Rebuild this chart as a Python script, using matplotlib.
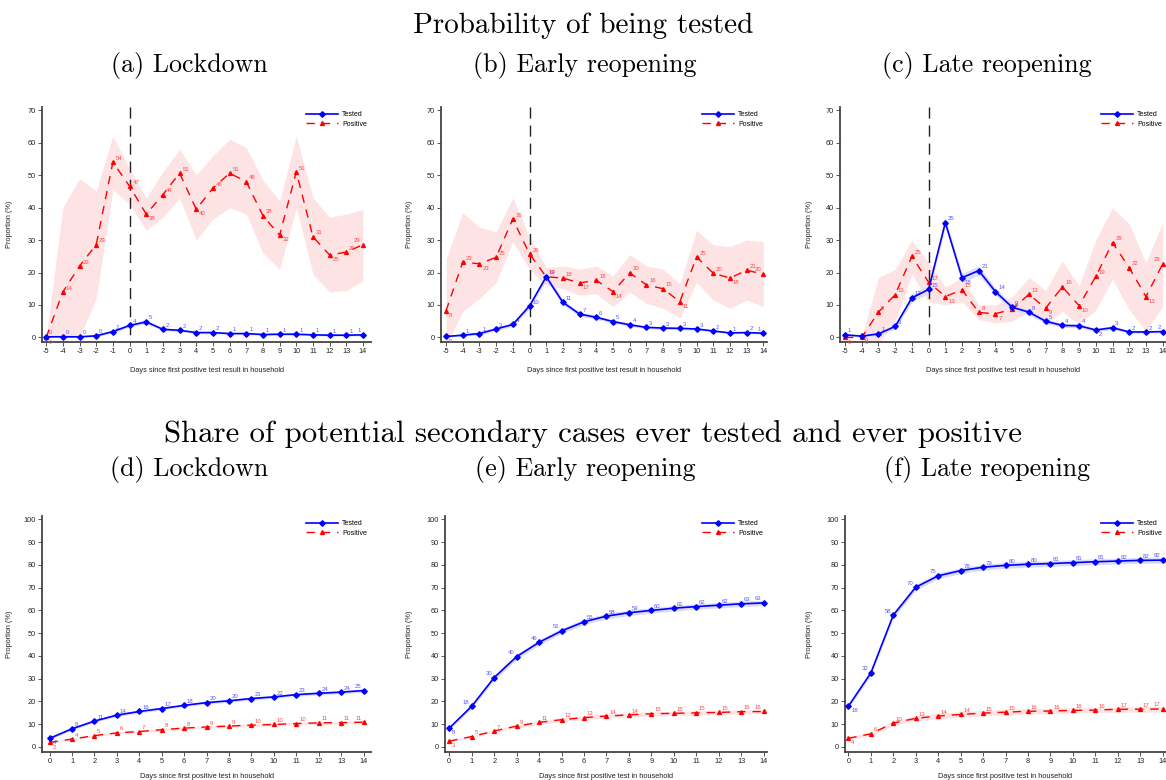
import matplotlib
matplotlib.use("Agg")
import matplotlib.pyplot as plt
import numpy as np

plt.rcParams['font.family'] = ['Liberation Sans', 'DejaVu Sans']
plt.rcParams['axes.unicode_minus'] = False

# ---------------- data ----------------
days_top = list(range(-5, 15))
days_bot = list(range(0, 15))

a_tes = [0.2, 0.2, 0.2, 0.5, 1.8, 3.7, 4.8, 2.5, 2.2, 1.5, 1.5, 1.2, 1.2, 0.9, 1.0, 1.0, 0.8, 0.7, 0.7, 0.8]
a_tes_lo = [0.0, 0.0, 0.0, 0.2, 1.4, 3.2, 4.3, 2.1, 1.8, 1.2, 1.2, 0.9, 0.9, 0.6, 0.7, 0.7, 0.5, 0.4, 0.4, 0.5]
a_tes_hi = [0.5, 0.5, 0.5, 0.9, 2.3, 4.2, 5.3, 2.9, 2.6, 1.8, 1.8, 1.5, 1.5, 1.2, 1.3, 1.3, 1.1, 1.0, 1.0, 1.1]
a_pos = [0.0, 14.0, 22.0, 28.6, 54.0, 46.6, 38.0, 44.0, 50.6, 39.5, 46.0, 50.6, 48.0, 37.5, 31.5, 51.0, 31.0, 25.4, 26.3, 28.6]
a_pos_lo = [0.0, 0.0, 0.0, 12.0, 45.5, 41.0, 33.0, 37.0, 43.0, 30.0, 36.5, 40.0, 38.0, 26.0, 21.0, 40.0, 19.5, 14.0, 14.5, 17.5]
a_pos_hi = [0.0, 40.0, 49.0, 45.0, 62.0, 52.0, 43.0, 51.0, 58.0, 50.0, 56.0, 61.0, 58.5, 48.5, 42.0, 62.0, 43.0, 37.0, 38.0, 39.5]

b_tes = [0.3, 0.7, 1.2, 2.6, 4.0, 9.7, 18.7, 10.8, 7.2, 6.2, 4.9, 3.9, 3.1, 2.9, 2.8, 2.6, 2.0, 1.4, 1.5, 1.3]
b_tes_lo = [0.1, 0.4, 0.8, 2.1, 3.4, 8.9, 17.6, 10.0, 6.6, 5.6, 4.4, 3.4, 2.7, 2.5, 2.4, 2.2, 1.7, 1.1, 1.2, 1.0]
b_tes_hi = [0.5, 1.0, 1.6, 3.1, 4.6, 10.5, 19.8, 11.6, 7.8, 6.8, 5.4, 4.4, 3.5, 3.3, 3.2, 3.0, 2.3, 1.7, 1.8, 1.6]
b_pos = [8.2, 23.2, 22.7, 24.7, 36.5, 25.7, 18.7, 18.3, 16.8, 17.6, 14.1, 19.9, 16.2, 15.0, 11.0, 24.8, 19.8, 18.3, 20.7, 19.5]
b_pos_lo = [-2.5, 8.0, 12.0, 17.0, 29.5, 21.0, 16.0, 15.0, 13.0, 13.5, 9.5, 14.0, 10.5, 9.0, 6.0, 17.0, 11.5, 9.0, 11.5, 9.5]
b_pos_hi = [24.0, 38.5, 34.0, 32.5, 43.0, 31.0, 21.5, 22.0, 21.0, 22.0, 19.0, 25.5, 22.0, 21.0, 16.5, 33.0, 28.5, 28.0, 30.0, 29.5]

c_tes = [0.8, 0.4, 1.1, 3.4, 12.2, 14.8, 35.4, 18.4, 20.6, 14.1, 9.3, 7.8, 5.0, 3.7, 3.6, 2.3, 3.0, 1.7, 1.7, 1.8]
c_tes_lo = [0.4, 0.1, 0.6, 2.6, 11.0, 13.5, 34.0, 17.0, 19.2, 13.0, 8.3, 7.0, 4.3, 3.1, 3.0, 1.8, 2.4, 1.3, 1.3, 1.4]
c_tes_hi = [1.2, 0.8, 1.6, 4.2, 13.4, 16.1, 36.8, 19.8, 22.0, 15.2, 10.3, 8.6, 5.7, 4.3, 4.2, 2.8, 3.6, 2.1, 2.1, 2.2]
c_pos = [0.0, 0.0, 7.8, 13.2, 25.0, 17.0, 12.6, 14.7, 7.7, 7.3, 8.7, 13.3, 9.0, 15.6, 9.8, 18.8, 29.2, 21.5, 12.6, 22.6]
c_pos_lo = [0.0, 0.0, -2.0, 5.0, 19.5, 11.0, 10.0, 11.0, 5.5, 4.5, 5.0, 8.0, 4.0, 8.0, 4.0, 8.5, 18.0, 8.5, 2.0, 9.5]
c_pos_hi = [0.0, 0.0, 18.5, 21.0, 30.0, 23.0, 15.5, 18.5, 10.0, 10.0, 12.5, 18.5, 14.5, 23.5, 16.0, 30.0, 40.0, 35.0, 23.0, 35.5]

d_tes = [3.8, 8.0, 11.4, 14.0, 15.6, 16.9, 18.3, 19.5, 20.3, 21.3, 22.0, 23.0, 23.6, 24.1, 24.8]
d_tes_lo = [3.3, 7.4, 10.8, 13.4, 15.0, 16.3, 17.7, 18.9, 19.6, 20.6, 21.3, 22.3, 22.9, 23.4, 24.1]
d_tes_hi = [4.3, 8.6, 12.0, 14.6, 16.2, 17.5, 18.9, 20.1, 21.0, 22.0, 22.7, 23.7, 24.3, 24.8, 25.5]
d_pos = [2.0, 3.5, 5.0, 6.2, 6.8, 7.6, 8.3, 8.8, 9.2, 9.6, 9.9, 10.3, 10.6, 10.7, 10.9]
d_pos_lo = [1.6, 3.1, 4.5, 5.7, 6.3, 7.0, 7.7, 8.2, 8.6, 9.0, 9.3, 9.7, 10.0, 10.1, 10.3]
d_pos_hi = [2.4, 3.9, 5.5, 6.7, 7.3, 8.2, 8.9, 9.4, 9.8, 10.2, 10.5, 10.9, 11.2, 11.3, 11.5]

e_tes = [8.3, 17.9, 30.5, 39.7, 46.0, 51.0, 55.0, 57.5, 59.0, 60.0, 61.0, 61.7, 62.3, 62.9, 63.3]
e_tes_lo = [7.6, 17.0, 29.4, 38.5, 44.8, 49.8, 53.8, 56.3, 57.8, 58.8, 59.8, 60.5, 61.1, 61.7, 62.1]
e_tes_hi = [9.0, 18.8, 31.6, 40.9, 47.2, 52.2, 56.2, 58.7, 60.2, 61.2, 62.2, 62.9, 63.5, 64.1, 64.5]
e_pos = [2.6, 4.6, 7.0, 9.2, 10.8, 12.0, 12.9, 13.6, 14.1, 14.6, 14.8, 15.0, 15.2, 15.5, 15.6]
e_pos_lo = [2.1, 4.0, 6.4, 8.5, 10.0, 11.2, 12.0, 12.7, 13.2, 13.6, 13.9, 14.1, 14.3, 14.5, 14.7]
e_pos_hi = [2.9, 5.0, 7.6, 9.9, 11.6, 12.8, 13.8, 14.5, 15.0, 15.4, 15.7, 15.9, 16.1, 16.3, 16.5]

f_tes = [17.9, 32.5, 57.9, 70.2, 75.2, 77.5, 79.0, 79.8, 80.3, 80.6, 81.0, 81.4, 81.7, 82.0, 82.1]
f_tes_lo = [17.0, 31.3, 56.6, 68.9, 73.9, 76.2, 77.7, 78.5, 79.0, 79.3, 79.7, 80.1, 80.4, 80.7, 80.8]
f_tes_hi = [18.8, 33.7, 59.2, 71.5, 76.5, 78.8, 80.3, 81.1, 81.6, 81.9, 82.3, 82.7, 83.0, 83.3, 83.4]
f_pos = [3.8, 5.8, 10.5, 12.6, 13.6, 14.3, 14.9, 15.3, 15.7, 15.8, 16.1, 16.2, 16.6, 16.6, 16.7]
f_pos_lo = [3.2, 5.0, 9.5, 11.5, 12.4, 13.1, 13.7, 14.1, 14.5, 14.6, 14.9, 15.0, 15.2, 15.3, 15.3]
f_pos_hi = [4.4, 6.6, 11.5, 13.7, 14.8, 15.5, 16.1, 16.5, 16.9, 17.0, 17.3, 17.4, 17.6, 17.7, 17.7]

main_titles = ["Probability of being tested",
               "Share of potential secondary cases ever tested and ever positive"]
panel_titles = ["(a) Lockdown", "(b) Early reopening", "(c) Late reopening",
                "(d) Lockdown", "(e) Early reopening", "(f) Late reopening"]
xlabel_top = "Days since first positive test result in household"
xlabel_bot = "Days since first positive test in household"
ylabel = "Proportion (%)"
legend_labels = ["Tested", "Positive"]

# ---------------- style ----------------
W, H = 1166, 780
fig = plt.figure(figsize=(W / 100, H / 100), dpi=100)

BLUE = "#0000ff"
RED = "#ff0000"
BLUE_LBL = "#5a5aff"
RED_LBL = "#ff4a4a"
BLUE_BAND = "#dcdcfa"
RED_BAND = "#fde3e3"
SERIF = "cmr10"


def px_rect(l, r, t, b):
    return [l / W, 1 - b / H, (r - l) / W, (b - t) / H]


panels = [
    dict(rect=px_rect(42, 371, 107, 342), xlim=(-5.25, 14.48), days=days_top,
         tes=a_tes, tlo=a_tes_lo, thi=a_tes_hi, pos=a_pos, plo=a_pos_lo, phi=a_pos_hi,
         top=True, ylx=-0.088),
    dict(rect=px_rect(441, 767, 107, 342), xlim=(-5.3, 14.22), days=days_top,
         tes=b_tes, tlo=b_tes_lo, thi=b_tes_hi, pos=b_pos, plo=b_pos_lo, phi=b_pos_hi,
         top=True, ylx=-0.086),
    dict(rect=px_rect(840, 1166, 107, 342), xlim=(-5.3, 14.2), days=days_top,
         tes=c_tes, tlo=c_tes_lo, thi=c_tes_hi, pos=c_pos, plo=c_pos_lo, phi=c_pos_hi,
         top=True, ylx=-0.083),
    dict(rect=px_rect(42, 371, 516, 752), xlim=(-0.34, 14.33), days=days_bot,
         tes=d_tes, tlo=d_tes_lo, thi=d_tes_hi, pos=d_pos, plo=d_pos_lo, phi=d_pos_hi,
         top=False, ylx=-0.088),
    dict(rect=px_rect(445, 767, 516, 752), xlim=(-0.19, 14.15), days=days_bot,
         tes=e_tes, tlo=e_tes_lo, thi=e_tes_hi, pos=e_pos, plo=e_pos_lo, phi=e_pos_hi,
         top=False, ylx=-0.1),
    dict(rect=px_rect(845, 1166, 516, 752), xlim=(-0.15, 14.15), days=days_bot,
         tes=f_tes, tlo=f_tes_lo, thi=f_tes_hi, pos=f_pos, plo=f_pos_lo, phi=f_pos_hi,
         top=False, ylx=-0.1),
]


def add_labels(ax, x, y, color, steep_thr=None, flat_low=False):
    n = len(y)
    for i in range(n):
        prev = y[i - 1] if i > 0 else None
        nxt = y[i + 1] if i < n - 1 else None
        is_min = ((prev is None or y[i] < prev - 0.3) and (nxt is None or y[i] < nxt - 0.3)
                  and nxt is not None)
        if flat_low and y[i] <= 0.05 and nxt is not None:
            is_min = True
        steep = steep_thr is not None and prev is not None and (y[i] - prev) > steep_thr
        if is_min:
            off, ha, va = (2, -1.5), "left", "top"
        elif steep or nxt is None:
            off, ha, va = (-1.5, 1.2), "right", "bottom"
        else:
            off, ha, va = (2, 1), "left", "bottom"
        ax.annotate(str(int(round(y[i]))), (x[i], y[i]), xytext=off,
                    textcoords="offset points", ha=ha, va=va,
                    fontsize=4.3, color=color)


for p in panels:
    ax = fig.add_axes(p["rect"])
    x = p["days"]
    ax.fill_between(x, p["plo"], p["phi"], color=RED_BAND, lw=0, zorder=1)
    ax.fill_between(x, p["tlo"], p["thi"], color=BLUE_BAND, lw=0, zorder=1)
    if p["top"]:
        ax.axvline(0, ymin=1, ymax=0, color="#222222", lw=1.0, dashes=(8, 5), zorder=2)
    ax.plot(x, p["tes"], color=BLUE, lw=1.2, marker="D", ms=2.8,
            label=legend_labels[0], zorder=4)
    ax.plot(x, p["pos"], color=RED, lw=1.0, dashes=(6, 5), marker="^", ms=2.8,
            label=legend_labels[1], zorder=3)
    thr = None if p["top"] else 4.5
    add_labels(ax, x, p["tes"], BLUE_LBL, thr)
    add_labels(ax, x, p["pos"], RED_LBL, None, flat_low=True)

    ax.set_xlim(*p["xlim"])
    if p["top"]:
        ax.set_ylim(-1.4, 71)
        ax.set_yticks(range(0, 71, 10))
        ax.set_xlabel(xlabel_top, fontsize=5.3, color="#222222")
        ax.xaxis.set_label_coords(0.5, -0.105)
    else:
        ax.set_ylim(-2.2, 101.5)
        ax.set_yticks(range(0, 101, 10))
        ax.set_xlabel(xlabel_bot, fontsize=5.3, color="#222222")
        ax.xaxis.set_label_coords(0.5, -0.09)
    ax.set_xticks(x)
    ax.set_ylabel(ylabel, fontsize=5.3, color="#222222")
    ax.yaxis.set_label_coords(p["ylx"], 0.5)
    for s in ["top", "right"]:
        ax.spines[s].set_visible(False)
    for s in ["left", "bottom"]:
        ax.spines[s].set_color("#444444")
        ax.spines[s].set_linewidth(1.3)
    ax.tick_params(axis="both", direction="out", length=3, width=0.7,
                   colors="#555555", labelsize=5.3, labelcolor="#222222", pad=1.5)
    leg = ax.legend(loc="upper right", bbox_to_anchor=(1.0, 1.0), frameon=False,
                    fontsize=5.0, handlelength=4.6, handletextpad=0.6,
                    labelspacing=0.35, borderaxespad=0.2)

# titles (baseline positions in pixels)
fig.text(583 / W, 1 - 33 / H, main_titles[0], family=SERIF, fontsize=21,
         ha="center", va="baseline")
fig.text(593 / W, 1 - 442 / H, main_titles[1], family=SERIF, fontsize=22.2,
         ha="center", va="baseline")
sub_pos = [(189, 72), (585, 72), (987, 72), (189, 476), (585, 476), (987, 476)]
for t, (px, py) in zip(panel_titles, sub_pos):
    fig.text(px / W, 1 - py / H, t, family=SERIF, fontsize=18.7,
             ha="center", va="baseline")

fig.savefig("out.png", dpi=100)
